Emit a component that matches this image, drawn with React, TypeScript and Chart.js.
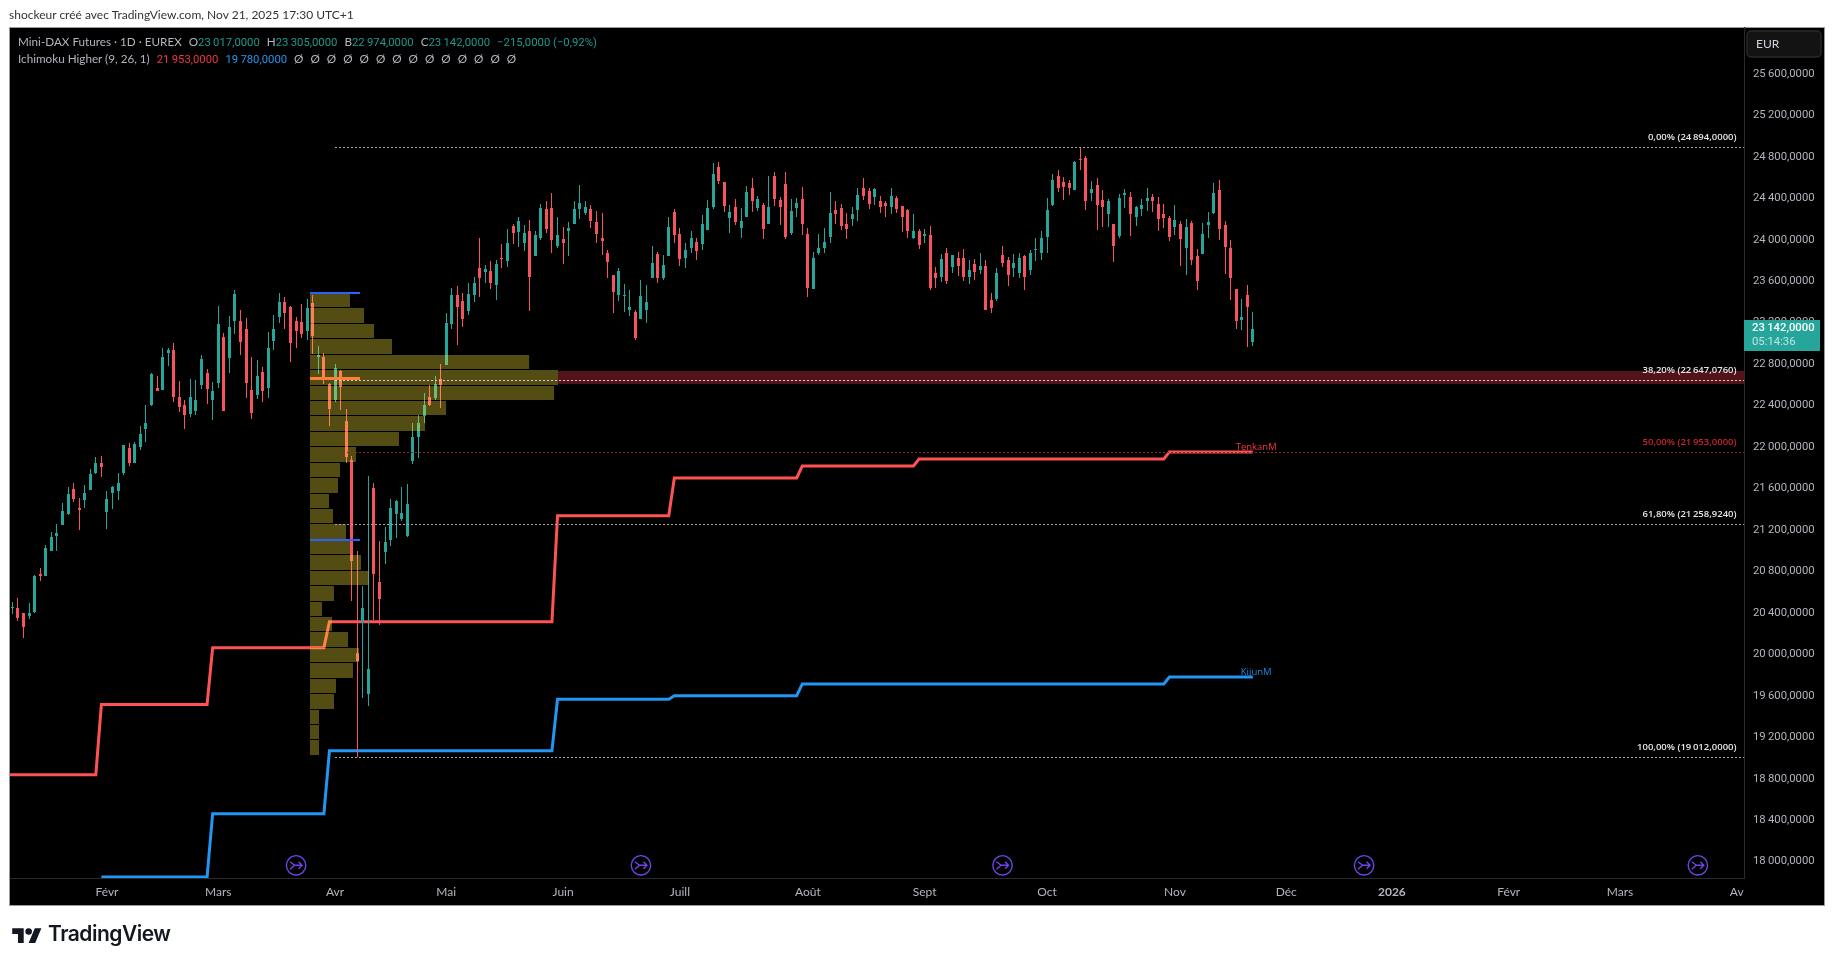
import React, { useEffect, useRef } from "react";
import { Chart, registerables } from "chart.js";

Chart.register(...registerables);

// ---- candles (EUR, daily, one entry per session, oldest first) ----
const opens = [
20447,20447,20398,20370,20408,20775,20755,20997,21141,21247,21354,21595,21411,21489,21585,21749,21846,21373,21556,21575,
21749,21990,21846,22000,22174,22405,22569,22550,22907,22936,22482,22405,22318,22347,22598,22714,22453,22617,23061,22859,
23215,23215,23138,22550,22502,22723,22569,23022,23254,23399,23351,23215,23206,23119,23389,22868,22868,22608,22453,22733,
22251,21875,20013,20302,19617,21604,20698,20987,21103,21354,21305,21141,21865,22096,22299,22482,22473,22656,22791,23187,
23466,23408,23312,23466,23727,23688,23698,23563,23823,23794,24132,24074,23968,24084,23843,24016,24296,24306,23939,24006,
24084,24151,24296,24257,24296,24170,24016,23871,23659,23466,23457,23322,23302,23235,23322,23630,23862,23630,23843,24267,
24055,23823,23920,23978,23958,24093,24315,24701,24556,24209,24315,24113,24219,24498,24306,24334,24151,24614,24383,24537,
24064,24306,24392,24055,23524,23871,23920,24026,24286,24306,24151,24199,24286,24498,24469,24412,24373,24354,24315,24402,
24325,24286,24016,24084,24035,24045,23679,23640,23871,23736,23823,23823,23640,23765,23707,23746,23418,23428,23852,23804,
23727,23679,23843,23707,23900,23871,24026,24334,24614,24556,24547,24479,24778,24788,24450,24527,24383,24248,24151,24035,
24431,24412,24219,24296,24373,24412,24344,24248,24209,24122,24151,23920,24161,23843,23862,24142,24257,24479,24142,23920,
23524,23225,23466,23017];
const highs = [
20505,20543,20398,20495,20765,20833,21054,21180,21257,21460,21614,21653,21508,21633,21788,21903,21913,21575,21624,21749,
22019,22038,22048,22203,22405,22714,22685,22955,22955,23003,22637,22453,22656,22646,22887,22752,22627,23360,23100,23264,
23514,23322,23244,22868,22839,22772,23109,23273,23486,23447,23360,23254,23380,23428,23466,22974,22907,22617,22801,22743,
22367,21913,20997,20659,21720,21653,21093,21228,21498,21489,21614,21643,22231,22309,22521,22598,22685,22801,23293,23534,
23553,23486,23582,23640,24016,23756,23794,23804,23958,24103,24151,24219,24142,24190,24084,24344,24373,24450,24219,24122,
24170,24373,24527,24373,24334,24277,24257,23900,23659,23727,23572,23515,23322,23611,23563,23939,23881,23852,24219,24296,
24113,23968,24084,24016,24238,24383,24740,24749,24556,24334,24392,24306,24518,24595,24421,24354,24614,24653,24412,24653,
24392,24402,24508,24113,23881,24055,24113,24460,24373,24344,24257,24315,24498,24595,24498,24498,24421,24373,24498,24421,
24325,24296,24248,24103,24103,24132,23736,23862,23920,23852,23881,23910,23804,23814,23871,23804,23486,23727,23939,23833,
23862,23871,23852,23900,24016,24084,24402,24634,24672,24605,24576,24759,24894,24807,24566,24595,24479,24392,24151,24441,
24489,24460,24325,24392,24498,24441,24412,24344,24228,24334,24180,24199,24180,23910,24161,24267,24547,24576,24180,23997,
23524,23428,23563,23305];
const lows = [
20389,20321,20157,20341,20398,20707,20755,20997,20997,21247,21344,21469,21199,21411,21585,21739,21710,21209,21402,21489,
21730,21817,21846,21971,22048,22395,22540,22550,22781,22434,22338,22174,22289,22309,22559,22415,22260,22569,22347,22714,
23090,22887,22473,22270,22463,22434,22473,22936,23196,23138,22820,22955,23051,23032,22897,22704,22608,22203,22434,22357,
21846,20514,19012,19579,19501,20331,20283,20871,21045,21122,21286,21132,21836,21894,22231,22395,22453,22376,22791,23138,
22984,23158,23273,23399,23447,23582,23524,23418,23727,23736,23958,23929,23891,23312,23843,23997,24064,23871,23920,23765,
23843,24151,24199,24238,24113,23968,23852,23630,23293,23408,23302,23264,23032,23235,23196,23630,23582,23611,23843,23968,
23746,23727,23871,23804,23900,24093,24296,24537,24267,24064,24142,24016,24219,24267,24277,24006,24151,24325,24142,24006,
24045,24219,24045,23447,23524,23852,23871,23968,24151,24093,24006,24132,24180,24383,24296,24334,24257,24219,24248,24257,
24074,24016,24006,23910,23968,23515,23534,23592,23572,23679,23650,23601,23572,23611,23669,23322,23293,23408,23736,23553,
23640,23630,23515,23659,23794,23804,23871,24325,24460,24383,24431,24479,24672,24286,24373,24093,24122,24122,23785,24016,
24306,24035,24132,24228,24277,24267,24084,24113,23987,24045,23746,23659,23756,23515,23862,24016,24248,23997,23669,23418,
23138,23129,22965,22974];
const closes = [
20456,20350,20263,20398,20755,20755,21026,21132,21170,21382,21546,21498,21392,21556,21739,21846,21807,21498,21614,21653,
22019,21846,22029,22125,22231,22704,22540,22868,22936,22482,22386,22309,22482,22453,22849,22559,22540,23186,22347,23158,
23476,23013,22617,22328,22685,22540,22955,23138,23399,23293,23003,23119,23090,23341,23071,22887,22656,22367,22762,22579,
21903,20900,19936,20447,19858,20775,20534,21083,21411,21479,21363,21450,22096,22231,22405,22405,22608,22598,23196,23466,
23351,23235,23476,23582,23630,23717,23582,23765,23814,23968,24064,24180,24064,23640,24045,24306,24103,23997,24045,23968,
24113,24296,24354,24315,24180,24055,23987,23785,23495,23698,23466,23351,23051,23457,23399,23775,23630,23756,24122,24045,
23814,23900,24016,23891,24151,24306,24634,24566,24325,24267,24170,24180,24460,24373,24392,24103,24315,24392,24315,24026,
24277,24354,24151,23534,23823,23920,23978,24257,24248,24132,24103,24248,24431,24421,24344,24489,24315,24325,24421,24296,
24219,24084,24084,23949,24055,23534,23630,23814,23601,23852,23746,23640,23707,23688,23746,23322,23341,23679,23775,23659,
23775,23823,23640,23871,23910,24016,24286,24576,24498,24508,24498,24749,24769,24373,24489,24334,24315,24373,23939,24402,
24450,24248,24315,24334,24402,24373,24199,24209,24026,24190,24006,24122,23804,23601,24055,24170,24450,24103,23929,23630,
23215,23254,23351,23142];

// ---- Ichimoku Higher (9, 26, 1): step lines as session index / level ----
const tenkanSessions = [-1,15,16,35,36,56,57,97,98,118,119,141,142,162,163,207,208,223];
const tenkanLevels = [18839,18839,19517,19517,20064,20064,20315,20315,21337,21337,21701,21701,21817,21817,21884,21884,21953,21953];
const kijunSessions = [16,35,36,56,57,97,98,118,119,141,142,207,208,223];
const kijunLevels = [17852,17852,18463,18463,19070,19070,19566,19566,19601,19601,19714,19714,19780,19780];

// ---- volume profile rows ----
const profileHigh = [23482,23341,23187,23042,22887,22743,22588,22444,22299,22145,22000,21846,21701,21547,21402,21257,21103,20958,20804,20659,20505,20360,20215,20061,19916,19762,19617,19463,19318,19173];
const profileLow = [23351,23196,23051,22897,22752,22598,22453,22309,22154,22010,21855,21710,21556,21411,21267,21112,20968,20813,20669,20514,20370,20225,20071,19926,19771,19627,19472,19328,19183,19029];
const profileVolume = [7.19,9.71,11.51,14.75,39.39,44.6,43.88,24.46,20.68,16,8.27,5.4,5.04,3.42,4.14,6.47,7.19,9.17,10.5,4.32,2.16,3.96,6.83,8.81,7.73,4.68,4.32,1.62,1.62,1.62];
const profileStart = 53.5;
const profileEnd = 62.5;
const profileTopLevels = [23489,21103];
const profilePoc = 22662;

// ---- fibonacci retracement ----
const fibPercent = [0, 38.2, 50, 61.8, 100];
const fibLevels = [24894, 22647.076, 21953, 21258.924, 19012];
const fibStart = 58;
const zoneHigh = 22733;
const zoneLow = 22608;
const zoneStart = 98.1;

// ---- axes ----
const monthSessions = [17,37,58,78,99,120,143,164,186,209,229,248,269,289,310];
const monthLabels = ["Févr","Mars","Avr","Mai","Juin","Juill","Août","Sept","Oct","Nov","Déc","2026","Févr","Mars","Av"];
const priceTicks = [18000,18400,18800,19200,19600,20000,20400,20800,21200,21600,22000,22400,22800,23200,23600,24000,24400,24800,25200,25600];
const splitSessions = [51,113,178,243,303];
const lastPrice = 23142;

const FONT = "Lato, 'Open Sans', sans-serif";
const NUM = "Roboto, Lato, sans-serif";
const SANS = "'Open Sans', sans-serif";
const UP = "#26a69a";
const DOWN = "#f7525f";

function fmt(v: number, d = 4) {
  const [a, b] = v.toFixed(d).split(".");
  return a.replace(/\B(?=(\d{3})+$)/g, "\u2009") + "," + b;
}

const overlay: any = {
  id: "overlay",
  beforeDraw(chart: any) {
    const c = chart.ctx;
    c.save();
    c.fillStyle = "#ffffff";
    c.fillRect(0, 0, 1835, 966);
    c.fillStyle = "#000000";
    c.fillRect(10, 27, 1814, 878);
    c.strokeStyle = "#9a9a9a";
    c.lineWidth = 1;
    c.strokeRect(9.5, 27.5, 1815, 878);
    c.restore();
  },
  beforeDatasetsDraw(chart: any) {
    const { ctx: c, scales: { x, y }, chartArea: a } = chart;
    c.save();
    c.fillStyle = "#53131b";
    const t = y.getPixelForValue(zoneHigh);
    c.fillRect(x.getPixelForValue(zoneStart), t, a.right - x.getPixelForValue(zoneStart), y.getPixelForValue(zoneLow) - t);
    c.restore();
    chart.data.datasets.forEach((d: any, i: number) => {
      if (d.type !== "bar") return;
      chart.getDatasetMeta(i).data.forEach((el: any) => {
        el.x = Math.floor(el.x) + 0.5;
        const p = Math.round(el.y);
        const q = Math.round(el.base);
        el.y = p;
        el.base = p === q ? p + 1 : q;
      });
    });
  },
  afterDatasetsDraw(chart: any) {
    const { ctx: c, scales: { x, y }, chartArea: a } = chart;
    c.save();
    // volume profile
    c.fillStyle = "rgba(255,235,59,0.33)";
    const x0 = x.getPixelForValue(profileStart);
    profileVolume.forEach((v, i) => {
      const t = y.getPixelForValue(profileHigh[i]);
      const b = y.getPixelForValue(profileLow[i]);
      c.fillRect(x0, Math.round(t), x.getPixelForValue(profileStart + v) - x0, Math.round(b) - Math.round(t));
    });
    const x1 = x.getPixelForValue(profileEnd);
    c.fillStyle = "#2962ff";
    profileTopLevels.forEach((v) => c.fillRect(x0, Math.round(y.getPixelForValue(v)) - 1, x1 - x0, 2));
    c.fillStyle = "#ff7f3a";
    c.fillRect(x0, Math.round(y.getPixelForValue(profilePoc)) - 1, x1 - x0, 3);

    // fib
    fibLevels.forEach((v, i) => {
      const red = fibPercent[i] === 50;
      const py = Math.round(y.getPixelForValue(v)) + 0.5;
      c.strokeStyle = red ? "#8c2a32" : fibPercent[i] === 38.2 ? "#e8c9c9" : "#a8a8a8";
      c.lineWidth = 1;
      c.setLineDash([2, 2]);
      c.beginPath();
      c.moveTo(x.getPixelForValue(fibStart), py);
      c.lineTo(a.right, py);
      c.stroke();
      c.setLineDash([]);
      c.font = "600 9.5px " + SANS;
      c.fillStyle = red ? "#c8242f" : "#e6e6e6";
      c.textAlign = "right";
      c.textBaseline = "middle";
      c.fillText(fibPercent[i].toFixed(2).replace(".", ",") + "% (" + fmt(v) + ")", a.right - 7.5, py - 10.5);
    });

    // line tags
    c.font = "9.5px " + SANS;
    c.textAlign = "center";
    c.fillStyle = "#f23645";
    c.fillText("TenkanM", x.getPixelForValue(223.6), y.getPixelForValue(21953) - 5);
    c.fillStyle = "#1e88e5";
    c.fillText("KijunM", x.getPixelForValue(223.6), y.getPixelForValue(19780) - 5);

    // contract roll marks
    const my = 865.3;
    splitSessions.forEach((s) => {
      const mx = x.getPixelForValue(s);
      c.strokeStyle = "#6f45e6";
      c.lineWidth = 1.4;
      c.beginPath();
      c.arc(mx, my, 9.7, 0, Math.PI * 2);
      c.stroke();
      c.beginPath();
      c.moveTo(mx - 6, my - 3.5); c.lineTo(mx - 1.5, my); c.lineTo(mx - 6, my + 4);
      c.moveTo(mx - 1.5, my); c.lineTo(mx + 6, my);
      c.moveTo(mx + 2.5, my - 3.5); c.lineTo(mx + 6, my); c.lineTo(mx + 2.5, my + 3.5);
      c.stroke();
    });

    // last price tag
    c.fillStyle = UP;
    c.fillRect(1744, 320, 76, 31);
    c.textAlign = "left";
    c.font = "500 11.3px " + NUM;
    c.fillStyle = "#ffffff";
    c.fillText(fmt(lastPrice), 1752, 328);
    c.font = "11.3px " + NUM;
    c.fillStyle = "#bfe6e2";
    c.fillText("05:14:36", 1752, 342);

    // currency button
    c.fillStyle = "#131313";
    c.strokeStyle = "#2a2a2a";
    c.beginPath();
    c.roundRect(1747, 31, 74, 26, 4);
    c.fill();
    c.stroke();
    c.font = "12px " + FONT;
    c.fillStyle = "#d1d4dc";
    c.fillText("EUR", 1756, 44.5);
    c.restore();
  },
};

const LABEL = "#b2b5be";
const VAL = "#1f9a8e";
const sep = { marginLeft: 7 };
const num = { fontFamily: NUM, fontSize: 11.3 };

export default function App() {
  const ref = useRef<HTMLCanvasElement>(null);
  useEffect(() => {
    const idx = opens.map((_, i) => i);
    const colors = idx.map((i) => (closes[i] >= opens[i] ? UP : DOWN));
    const chart = new Chart(ref.current as HTMLCanvasElement, {
      type: "bar",
      data: {
        datasets: [
          {
            type: "bar", label: "body", order: 1, grouped: false, barThickness: 3, minBarLength: 1, inflateAmount: 0,
            backgroundColor: colors,
            data: idx.map((i) => ({ x: i, y: [opens[i], closes[i]] })),
          },
          {
            type: "bar", label: "wick", order: 2, grouped: false, barThickness: 1, minBarLength: 1, inflateAmount: 0,
            backgroundColor: colors,
            data: idx.map((i) => ({ x: i, y: [lows[i], highs[i]] })),
          },
          {
            type: "line", label: "Tenkan", order: 3, borderColor: "#ff5252", borderWidth: 3, pointRadius: 0, tension: 0,
            data: tenkanSessions.map((s, i) => ({ x: s, y: tenkanLevels[i] })),
          },
          {
            type: "line", label: "Kijun", order: 4, borderColor: "#2196f3", borderWidth: 3, pointRadius: 0, tension: 0,
            data: kijunSessions.map((s, i) => ({ x: s, y: kijunLevels[i] })),
          },
        ] as any,
      },
      options: {
        animation: false,
        responsive: false,
        devicePixelRatio: 1,
        layout: { padding: { left: 10, top: 27, right: 10, bottom: 61 } },
        plugins: { legend: { display: false }, tooltip: { enabled: false } },
        scales: {
          x: {
            type: "linear", min: -0.43, max: 311.3, offset: false,
            grid: { display: false, drawTicks: false },
            border: { color: "#2a2a2a" },
            afterFit: (s: any) => { s.height = 27; },
            afterBuildTicks: (s: any) => { s.ticks = monthSessions.map((v) => ({ value: v })); },
            ticks: {
              autoSkip: false, maxRotation: 0, padding: 7,
              font: (ctx: any) => ({ family: FONT, size: 12, weight: monthLabels[monthSessions.indexOf(ctx.tick?.value)] === "2026" ? "bold" : "normal" }),
              color: LABEL,
              callback: (v: any) => monthLabels[monthSessions.indexOf(v)] ?? "",
            },
          },
          y: {
            type: "linear", position: "right", min: 17842, max: 26052,
            grid: { display: false, drawTicks: false },
            border: { color: "#2a2a2a" },
            afterFit: (s: any) => { s.width = 81; },
            afterBuildTicks: (s: any) => { s.ticks = priceTicks.map((v) => ({ value: v })); },
            ticks: {
              autoSkip: false, padding: 9, color: LABEL,
              font: { family: NUM, size: 11.3 },
              callback: (v: any) => fmt(Number(v)),
            },
          },
        },
      } as any,
      plugins: [overlay],
    });
    return () => chart.destroy();
  }, []);

  const nulls = Array.from({ length: 14 }, () => "Ø");
  return (
    <div style={{ position: "absolute", left: 0, top: 0, width: 1835, height: 966, background: "#fff", overflow: "hidden" }}>
      <canvas ref={ref} width={1835} height={966} style={{ position: "absolute", left: 0, top: 0, display: "block" }} />
      <div style={{ position: "absolute", left: 9, top: 7, font: `12px ${FONT}`, color: "#333", whiteSpace: "nowrap" }}>
        shockeur créé avec TradingView.com, Nov 21, 2025 17:30 UTC+1
      </div>
      <div style={{ position: "absolute", left: 18, top: 34, font: `11.7px ${FONT}`, color: LABEL, whiteSpace: "nowrap" }}>
        Mini-DAX Futures · 1D · EUREX
        <span style={sep}>O</span><span style={{ ...num, color: VAL }}>{fmt(23017)}</span>
        <span style={sep}>H</span><span style={{ ...num, color: VAL }}>{fmt(23305)}</span>
        <span style={sep}>B</span><span style={{ ...num, color: VAL }}>{fmt(22974)}</span>
        <span style={sep}>C</span><span style={{ ...num, color: VAL }}>{fmt(23142)}</span>
        <span style={{ ...sep, ...num, color: VAL }}>−215,0000 (−0,92%)</span>
      </div>
      <div style={{ position: "absolute", left: 18, top: 51, font: `11.7px ${FONT}`, color: LABEL, whiteSpace: "nowrap" }}>
        Ichimoku Higher (9, 26, 1)
        <span style={{ ...sep, ...num, color: "#f23645" }}>{fmt(21953)}</span>
        <span style={{ ...sep, ...num, color: "#2196f3" }}>{fmt(19780)}</span>
        {nulls.map((n, i) => <span key={i} style={sep}>{n}</span>)}
      </div>
      <svg viewBox="0 0 36 28" width={30} height={23} style={{ position: "absolute", left: 12, top: 925 }}>
        <path fill="#131722" d="M14 22H7V11H0V4h14v18zM28 22h-8l7.5-18h8L28 22z" />
        <circle fill="#131722" cx="20" cy="8" r="4" />
      </svg>
      <div style={{ position: "absolute", left: 48, top: 921, font: `600 21px Inter, ${FONT}`, color: "#131722", letterSpacing: -0.5, whiteSpace: "nowrap" }}>
        TradingView
      </div>
    </div>
  );
}
